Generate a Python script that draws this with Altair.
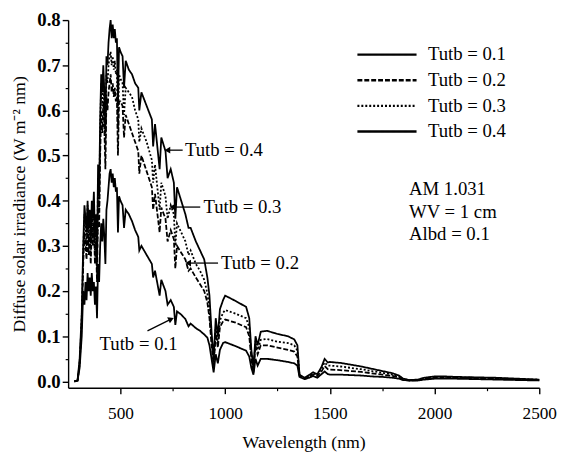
import altair as alt
import pandas as pd

# ---------------- data ----------------
wavelength = [280, 295, 305, 315, 322, 328, 333, 338, 343, 348, 353, 358, 363, 368, 373, 378, 383, 388, 393, 398,
              403, 408, 413, 418, 423, 428, 433, 438, 443, 448, 453, 458, 463, 468, 473, 478, 483, 488, 493, 500,
              510, 517, 525, 540, 555, 570, 585, 590, 600, 625, 650, 656, 665, 687, 695, 715, 725, 740, 755, 762,
              770, 790, 810, 825, 835, 860, 880, 900, 915, 925, 935, 945, 955, 965, 975, 990, 1000, 1050, 1100, 1115,
              1125, 1135, 1145, 1155, 1170, 1200, 1250, 1300, 1330, 1345, 1355, 1380, 1400, 1420, 1440, 1460, 1475, 1490, 1500, 1550,
              1600, 1650, 1700, 1750, 1800, 1830, 1850, 1880, 1920, 1950, 2000, 2050, 2100, 2200, 2300, 2400, 2500]

tutb_01 = [0, 0.002, 0.03, 0.10, 0.20, 0.17, 0.22, 0.18, 0.24, 0.20, 0.23, 0.19, 0.24, 0.20, 0.22, 0.17, 0.21, 0.14, 0.26, 0.22,
           0.30, 0.35, 0.31, 0.36, 0.32, 0.26, 0.38, 0.40, 0.43, 0.46, 0.47, 0.44, 0.46, 0.43, 0.45, 0.42, 0.43, 0.33, 0.41, 0.40,
           0.39, 0.34, 0.38, 0.37, 0.355, 0.335, 0.32, 0.29, 0.30, 0.28, 0.26, 0.23, 0.245, 0.19, 0.225, 0.20, 0.17, 0.18, 0.165, 0.125,
           0.155, 0.148, 0.138, 0.122, 0.128, 0.118, 0.112, 0.104, 0.097, 0.08, 0.05, 0.02, 0.06, 0.04, 0.07, 0.085, 0.087, 0.078, 0.068, 0.055,
           0.03, 0.015, 0.05, 0.035, 0.05, 0.05, 0.047, 0.043, 0.04, 0.035, 0.01, 0.005, 0.008, 0.012, 0.008, 0.016, 0.022, 0.016, 0.015, 0.015,
           0.014, 0.013, 0.011, 0.010, 0.008, 0.006, 0.003, 0.002, 0.002, 0.004, 0.006, 0.006, 0.006, 0.005, 0.004, 0.003, 0.002]

tutb_02 = [0, 0.002, 0.04, 0.13, 0.26, 0.33, 0.30, 0.27, 0.36, 0.28, 0.33, 0.26, 0.34, 0.30, 0.35, 0.26, 0.31, 0.22, 0.40, 0.34,
           0.50, 0.60, 0.55, 0.62, 0.56, 0.47, 0.63, 0.60, 0.64, 0.66, 0.68, 0.64, 0.66, 0.63, 0.65, 0.62, 0.63, 0.50, 0.62, 0.62,
           0.61, 0.54, 0.59, 0.57, 0.55, 0.53, 0.51, 0.46, 0.50, 0.465, 0.43, 0.38, 0.415, 0.33, 0.385, 0.36, 0.31, 0.335, 0.315, 0.25,
           0.30, 0.285, 0.27, 0.245, 0.25, 0.23, 0.215, 0.20, 0.175, 0.14, 0.08, 0.035, 0.105, 0.075, 0.12, 0.133, 0.137, 0.13, 0.12, 0.10,
           0.05, 0.02, 0.08, 0.06, 0.08, 0.08, 0.075, 0.07, 0.066, 0.055, 0.012, 0.006, 0.01, 0.015, 0.012, 0.022, 0.034, 0.027, 0.026, 0.025,
           0.023, 0.021, 0.018, 0.015, 0.012, 0.009, 0.004, 0.002, 0.003, 0.006, 0.008, 0.008, 0.008, 0.007, 0.006, 0.004, 0.003]

tutb_03 = [0, 0.002, 0.04, 0.14, 0.28, 0.37, 0.34, 0.30, 0.39, 0.31, 0.36, 0.29, 0.37, 0.33, 0.39, 0.29, 0.34, 0.25, 0.45, 0.38,
           0.56, 0.66, 0.61, 0.67, 0.61, 0.52, 0.68, 0.66, 0.70, 0.72, 0.73, 0.70, 0.72, 0.69, 0.71, 0.68, 0.69, 0.56, 0.68, 0.67,
           0.66, 0.59, 0.65, 0.64, 0.63, 0.60, 0.58, 0.53, 0.56, 0.53, 0.49, 0.44, 0.48, 0.38, 0.44, 0.41, 0.36, 0.39, 0.37, 0.30,
           0.35, 0.33, 0.31, 0.28, 0.29, 0.26, 0.245, 0.225, 0.195, 0.16, 0.09, 0.04, 0.12, 0.085, 0.135, 0.152, 0.158, 0.15, 0.14, 0.12,
           0.06, 0.025, 0.09, 0.07, 0.092, 0.094, 0.088, 0.085, 0.08, 0.068, 0.014, 0.007, 0.012, 0.018, 0.014, 0.028, 0.042, 0.035, 0.035, 0.033,
           0.03, 0.027, 0.023, 0.019, 0.015, 0.011, 0.005, 0.003, 0.003, 0.007, 0.010, 0.010, 0.009, 0.008, 0.007, 0.005, 0.004]

tutb_04 = [0, 0.002, 0.05, 0.15, 0.30, 0.39, 0.36, 0.33, 0.40, 0.34, 0.38, 0.31, 0.40, 0.36, 0.42, 0.32, 0.37, 0.27, 0.48, 0.41,
           0.58, 0.68, 0.64, 0.70, 0.64, 0.55, 0.72, 0.70, 0.75, 0.78, 0.80, 0.76, 0.79, 0.76, 0.78, 0.75, 0.76, 0.61, 0.74, 0.73,
           0.72, 0.65, 0.71, 0.69, 0.68, 0.66, 0.65, 0.60, 0.64, 0.61, 0.58, 0.52, 0.57, 0.47, 0.54, 0.51, 0.45, 0.47, 0.44, 0.36,
           0.43, 0.40, 0.37, 0.34, 0.34, 0.31, 0.29, 0.27, 0.23, 0.19, 0.11, 0.05, 0.14, 0.10, 0.16, 0.18, 0.19, 0.178, 0.165, 0.14,
           0.07, 0.03, 0.10, 0.08, 0.11, 0.112, 0.105, 0.10, 0.093, 0.08, 0.015, 0.008, 0.014, 0.02, 0.016, 0.032, 0.05, 0.042, 0.043, 0.041,
           0.037, 0.033, 0.028, 0.023, 0.018, 0.013, 0.006, 0.003, 0.004, 0.008, 0.011, 0.011, 0.010, 0.009, 0.008, 0.006, 0.004]

series_names = ["Tutb = 0.1", "Tutb = 0.2", "Tutb = 0.3", "Tutb = 0.4"]
series_values = [tutb_01, tutb_02, tutb_03, tutb_04]

x_major = [500, 1000, 1500, 2000, 2500]
x_minor = [750, 1250, 1750, 2250]
y_major = [0.0, 0.1, 0.2, 0.3, 0.4, 0.5, 0.6, 0.7, 0.8]
y_minor = [0.05, 0.15, 0.25, 0.35, 0.45, 0.55, 0.65, 0.75]

# annotations (data coordinates)
label_text = ["Tutb = 0.4", "Tutb = 0.3", "Tutb = 0.2", "Tutb = 0.1", "AM 1.031", "WV = 1 cm", "Albd = 0.1"]
label_wl = [808, 896, 980, 400, 1878, 1878, 1878]
label_val = [0.512, 0.386, 0.262, 0.082, 0.426, 0.375, 0.327]

arrow_wl = [797, 881, 966, 629]
arrow_val = [0.512, 0.386, 0.262, 0.112]
arrow_wl2 = [724, 748, 823, 742]
arrow_val2 = [0.512, 0.386, 0.262, 0.138]
head_angle = [180, 180, 180, 336]

# ---------------- build tables ----------------
rows = []
for name, vals in zip(series_names, series_values):
    assert len(vals) == len(wavelength)
    for w, v in zip(wavelength, vals):
        rows.append({"wl": w, "val": v, "series": name})
df = pd.DataFrame(rows)

df_lab = pd.DataFrame({"wl": label_wl, "val": label_val, "text": label_text})
df_arrow = pd.DataFrame({"wl": arrow_wl, "val": arrow_val, "wl2": arrow_wl2, "val2": arrow_val2,
                         "angle": head_angle})

FONT = "Liberation Serif"
xscale = alt.Scale(domain=[250, 2500], nice=False, zero=False)
yscale = alt.Scale(domain=[-0.014, 0.8], nice=False, zero=False)

x_axis = alt.Axis(values=x_major, orient="bottom", title="Wavelength (nm)", format="d",
                  tickSize=6, tickWidth=1.4, domainWidth=1.4, domainColor="black", tickColor="black",
                  labelFont=FONT, labelFontSize=17.5, labelColor="black", labelPadding=11,
                  labelFlush=False, labelOverlap=False, grid=False,
                  titleFont=FONT, titleFontSize=18, titleFontWeight="normal", titleColor="black",
                  titlePadding=12)
y_axis = alt.Axis(values=y_major, orient="left", title="Diffuse solar irradiance (W m\u207b\u00b2 nm)",
                  format=".1f", tickSize=6, tickWidth=1.4, domainWidth=1.4, domainColor="black",
                  tickColor="black", labelFont=FONT, labelFontSize=19, labelFontWeight="bold",
                  labelColor="black", labelPadding=2, labelFlush=False, labelOverlap=False, grid=False,
                  titleFont=FONT, titleFontSize=18, titleFontWeight="normal", titleColor="black",
                  titlePadding=8)
x_axis_minor = alt.Axis(values=x_minor, orient="bottom", labels=False, title=None, domain=False,
                        tickSize=3, tickWidth=1.2, tickColor="black", grid=False)
y_axis_minor = alt.Axis(values=y_minor, orient="left", labels=False, title=None, domain=False,
                        tickSize=3, tickWidth=1.2, tickColor="black", grid=False)

lines = alt.Chart(df).mark_line(color="black", strokeWidth=1.8).encode(
    x=alt.X("wl:Q", scale=xscale, axis=x_axis),
    y=alt.Y("val:Q", scale=yscale, axis=y_axis),
    strokeDash=alt.StrokeDash(
        "series:N",
        scale=alt.Scale(domain=series_names, range=[[1, 0], [5, 2], [2, 2], [1, 0]]),
        legend=alt.Legend(title=None, orient="none", legendX=292, legendY=25,
                          symbolType="stroke", symbolSize=3600, symbolStrokeWidth=2.4,
                          symbolStrokeColor="black", labelFont=FONT, labelFontSize=19,
                          labelColor="black", labelOffset=10, rowPadding=6, clipHeight=20),
    ),
)

minor = alt.Chart(df).mark_point(opacity=0).encode(
    x=alt.X("wl:Q", scale=xscale, axis=x_axis_minor),
    y=alt.Y("val:Q", scale=yscale, axis=y_axis_minor),
)

texts = alt.Chart(df_lab).mark_text(align="left", baseline="middle", font=FONT, fontSize=19,
                                     color="black").encode(
    x=alt.X("wl:Q", scale=xscale, axis=None),
    y=alt.Y("val:Q", scale=yscale, axis=None),
    text="text:N",
)

arrow_lines = alt.Chart(df_arrow).mark_rule(color="black", strokeWidth=1.3).encode(
    x=alt.X("wl:Q", scale=xscale, axis=None),
    y=alt.Y("val:Q", scale=yscale, axis=None),
    x2="wl2:Q",
    y2="val2:Q",
)

arrow_heads = alt.Chart(df_arrow).mark_point(shape="triangle-right", filled=True, size=45,
                                             color="black", opacity=1).encode(
    x=alt.X("wl2:Q", scale=xscale, axis=None),
    y=alt.Y("val2:Q", scale=yscale, axis=None),
    angle=alt.Angle("angle:Q", scale=None),
)

chart = alt.layer(lines, minor, texts, arrow_lines, arrow_heads).resolve_axis(
    x="independent", y="independent"
).properties(
    width=478, height=373,
    autosize=alt.AutoSizeParams(type="none"),
    padding={"left": 61, "top": 9, "right": 18, "bottom": 66},
    background="white",
).configure_view(stroke=None)

chart.save("out.html", embed_options={"renderer": "svg", "actions": False})
